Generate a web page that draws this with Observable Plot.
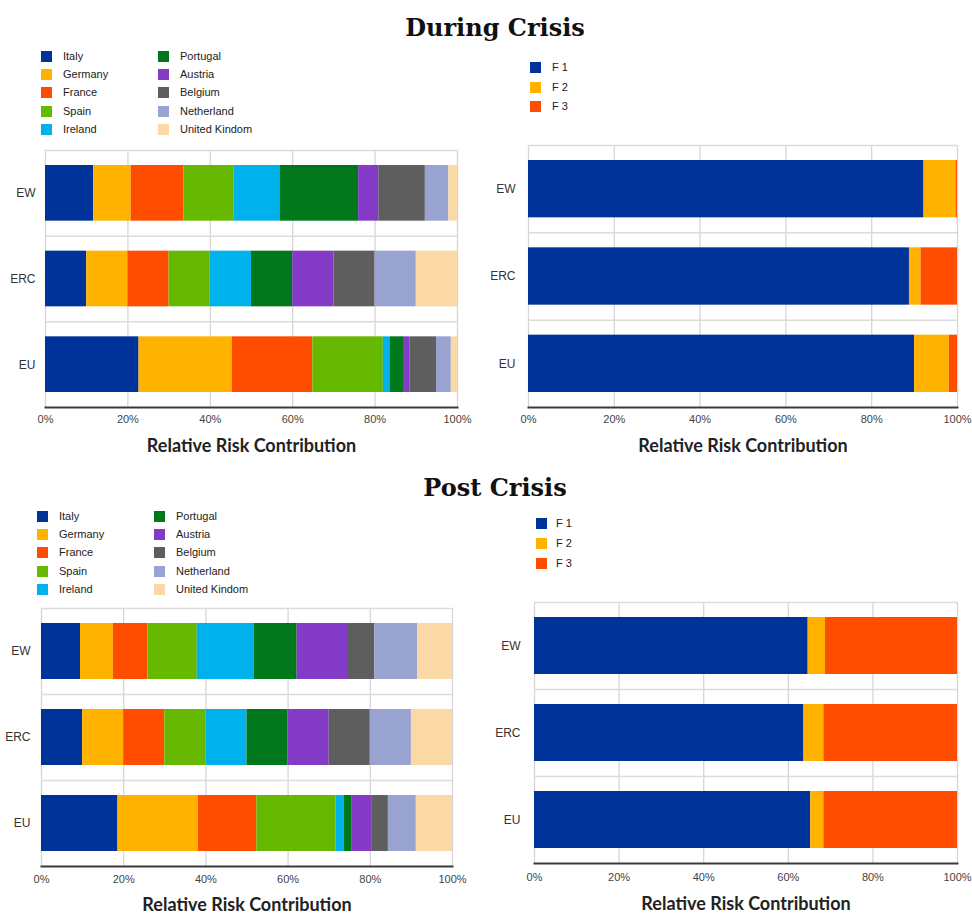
<!DOCTYPE html>
<html>
<head>
<meta charset="utf-8">
<script src="https://cdn.jsdelivr.net/npm/d3@7"></script>
<script src="https://cdn.jsdelivr.net/npm/@observablehq/plot@0.6"></script>
<style>
  body { margin: 0; background: #fff; }
  #root { position: relative; width: 972px; height: 915px; overflow: hidden; font-family: "Liberation Sans", Arial, sans-serif; background: #fff; }
  .title { position: absolute; left: 0; width: 990px; text-align: center; font-family: "DejaVu Serif", serif; font-weight: bold; font-size: 24px; line-height: 30px; color: #111; }
  .chart { position: absolute; }
  .leg { position: absolute; font-size: 11px; color: #222; }
  .item { position: absolute; white-space: nowrap; height: 12px; line-height: 12px; }
  .sw { position: absolute; left: 0; top: 0; width: 11px; height: 11px; }
  .lab { position: absolute; top: -1px; }
</style>
</head>
<body>
<div id="root"></div>
<script>
// ---------- data ----------
const portfolios = ["EW", "ERC", "EU"];
const countries = ["Italy", "Germany", "France", "Spain", "Ireland", "Portugal", "Austria", "Belgium", "Netherland", "United Kindom"];
const countryColors = ["#003399", "#FFB300", "#FF4D00", "#66B800", "#00B2EB", "#00771A", "#833AC6", "#5E5E5E", "#99A3D0", "#FAD9A6"];
const factors = ["F 1", "F 2", "F 3"];
const factorColors = ["#003399", "#FFB300", "#FF4D00"];
const xTicks = [0, 20, 40, 60, 80, 100];
const axisTitle = "Relative Risk Contribution";

// During crisis, country risk contributions (%)
const duringCountryEW  = [11.7, 9.1, 12.8, 12.1, 11.2, 19.1, 4.9, 11.3, 5.7, 2.1];
const duringCountryERC = [10, 10, 10, 10, 10, 10, 10, 10, 10, 10];
const duringCountryEU  = [22.7, 22.6, 19.6, 17.1, 1.6, 3.3, 1.6, 6.4, 3.6, 1.5];
// During crisis, factor risk contributions (%)
const duringFactorEW  = [92.2, 7.5, 0.3];
const duringFactorERC = [88.8, 2.7, 8.5];
const duringFactorEU  = [90.0, 8.1, 1.9];
// Post crisis, country risk contributions (%)
const postCountryEW  = [9.5, 8.0, 8.4, 12.0, 13.9, 10.4, 12.5, 6.4, 10.4, 8.5];
const postCountryERC = [10, 10, 10, 10, 10, 10, 10, 10, 10, 10];
const postCountryEU  = [18.6, 19.6, 14.2, 19.3, 2.0, 1.9, 4.9, 3.9, 6.8, 8.8];
// Post crisis, factor risk contributions (%)
const postFactorEW  = [64.7, 4.1, 31.2];
const postFactorERC = [63.7, 4.7, 31.6];
const postFactorEU  = [65.3, 3.1, 31.6];

// ---------- helpers ----------
function toRows(keys, series) {
  const rows = [];
  portfolios.forEach((p, i) => {
    series[i].forEach((v, j) => rows.push({portfolio: p, key: keys[j], value: v}));
  });
  return rows;
}

function stackChart({rows, keys, colors, width, height, ml, mr, mt, mb, yPad, titleDy, tickPad}) {
  const bw = (height - mt - mb) / portfolios.length;
  return Plot.plot({
    width, height,
    marginLeft: ml, marginRight: mr, marginTop: mt, marginBottom: mb,
    style: {fontFamily: "'Liberation Sans', Arial, sans-serif", background: "transparent", overflow: "visible"},
    x: {domain: [0, 100], label: null},
    y: {domain: portfolios, padding: 0, round: false, label: null},
    color: {domain: keys, range: colors},
    marks: [
      Plot.gridX(xTicks, {stroke: "#d6d6d6", strokeOpacity: 1, strokeWidth: 1.3}),
      Plot.ruleY(portfolios, {y: d => d, dy: -bw / 2, stroke: "#dcdcdc", strokeWidth: 1.5}),
      Plot.barX(rows, {x: "value", y: "portfolio", fill: "key", insetTop: 15, insetBottom: 15}),
      Plot.frame({anchor: "bottom", stroke: "#3a3a3a", strokeWidth: 2}),
      Plot.axisX(xTicks, {tickSize: 0, tickPadding: tickPad, tickFormat: d => d + "%", fontSize: 11, fill: "#444", label: null}),
      Plot.axisY({tickSize: 0, tickPadding: yPad, fontSize: 12, fill: "#333", label: null}),
      Plot.text([axisTitle], {frameAnchor: "bottom", dy: titleDy, fontWeight: "bold", fontSize: 18, fontFamily: "Lato", fill: "#222"})
    ]
  });
}

function place(el, left, top) {
  el.classList.add("chart");
  el.style.left = left + "px";
  el.style.top = top + "px";
  root.appendChild(el);
}

function legend(keys, colors, left, top, rowGap, perColumn, colGap, labelX) {
  const div = document.createElement("div");
  div.className = "leg";
  div.style.left = left + "px";
  div.style.top = top + "px";
  keys.forEach((k, i) => {
    const col = Math.floor(i / perColumn), row = i % perColumn;
    const it = document.createElement("div");
    it.className = "item";
    it.style.left = (col * colGap) + "px";
    it.style.top = (row * rowGap) + "px";
    const sw = document.createElement("div");
    sw.className = "sw";
    sw.style.background = colors[i];
    const lab = document.createElement("div");
    lab.className = "lab";
    lab.style.left = labelX + "px";
    lab.textContent = k;
    it.appendChild(sw); it.appendChild(lab);
    div.appendChild(it);
  });
  root.appendChild(div);
}

function title(text, top) {
  const d = document.createElement("div");
  d.className = "title";
  d.style.top = top + "px";
  d.textContent = text;
  root.appendChild(d);
}

const root = document.getElementById("root");

// ---------- During crisis ----------
title("During Crisis", 13);
legend(countries, countryColors, 41, 51, 18.2, 5, 117, 22);
legend(factors, factorColors, 530, 62, 19.5, 3, 0, 22);

place(stackChart({
  rows: toRows(countries, [duringCountryEW, duringCountryERC, duringCountryEU]),
  keys: countries, colors: countryColors,
  width: 470, height: 320, ml: 45, mr: 13, mt: 10, mb: 53, yPad: 10, titleDy: 44, tickPad: 8
}), 0, 140);

place(stackChart({
  rows: toRows(factors, [duringFactorEW, duringFactorERC, duringFactorEU]),
  keys: factors, colors: factorColors,
  width: 482, height: 325, ml: 38, mr: 15, mt: 10, mb: 53, yPad: 13, titleDy: 44, tickPad: 8
}), 490, 135);

// ---------- Post crisis ----------
title("Post Crisis", 473);
legend(countries, countryColors, 37, 511, 18.2, 5, 117, 22);
legend(factors, factorColors, 536, 518, 20, 3, 0, 20);

place(stackChart({
  rows: toRows(countries, [postCountryEW, postCountryERC, postCountryEU]),
  keys: countries, colors: countryColors,
  width: 470, height: 317, ml: 41, mr: 18, mt: 10, mb: 49, yPad: 11, titleDy: 44, tickPad: 9
}), 0, 598);

place(stackChart({
  rows: toRows(factors, [postFactorEW, postFactorERC, postFactorEU]),
  keys: factors, colors: factorColors,
  width: 482, height: 323, ml: 44, mr: 15, mt: 10, mb: 52, yPad: 14, titleDy: 46, tickPad: 10
}), 490, 592);
</script>
</body>
</html>
